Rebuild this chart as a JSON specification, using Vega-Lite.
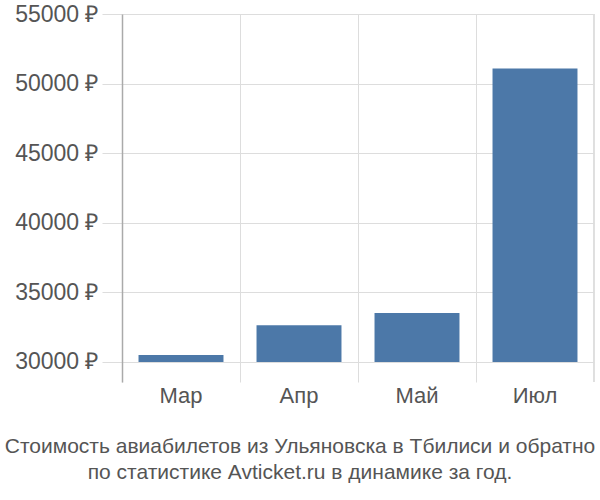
{
  "$schema": "https://vega.github.io/schema/vega-lite/v6.json",
  "autosize": "none",
  "padding": {"left": 122, "top": 14, "right": 6, "bottom": 118},
  "width": 472,
  "height": 368,
  "background": "white",
  "config": {
    "font": "Liberation Sans",
    "view": {"stroke": null}
  },
  "title": {
    "text": ["Стоимость авиабилетов из Ульяновска в Тбилиси и обратно", "по статистике Avticket.ru в динамике за год."],
    "orient": "bottom",
    "anchor": "middle",
    "dx": -58,
    "offset": 30,
    "fontSize": 21,
    "fontWeight": "normal",
    "color": "#555",
    "lineHeight": 26
  },
  "data": {
    "values": [
      {"month": "Мар", "price": 30500},
      {"month": "Апр", "price": 32640},
      {"month": "Май", "price": 33520},
      {"month": "Июл", "price": 51080}
    ]
  },
  "layer": [
    {
      "mark": {"type": "bar", "color": "#4c78a8", "width": {"band": 0.72}},
      "encoding": {
        "x": {
          "field": "month",
          "type": "nominal",
          "sort": null,
          "scale": {"paddingInner": 0, "paddingOuter": 0},
          "axis": {
            "title": null,
            "domain": false,
            "ticks": false,
            "grid": true,
            "gridColor": "#ddd",
            "bandPosition": 0,
            "labelAngle": 0,
            "labelFontSize": 22,
            "labelColor": "#555",
            "labelPadding": 3
          }
        },
        "y": {
          "field": "price",
          "type": "quantitative",
          "scale": {"domain": [28560, 55000], "nice": false, "zero": false},
          "axis": {
            "title": null,
            "values": [30000, 35000, 40000, 45000, 50000, 55000],
            "labelExpr": "datum.value + ' ₽'",
            "labelFontSize": 23,
            "labelColor": "#555",
            "labelPadding": 4,
            "tickSize": 20,
            "tickColor": "#ddd",
            "grid": true,
            "gridColor": "#ddd",
            "domainColor": "#aaa",
            "domainWidth": 1.5
          }
        },
        "y2": {"datum": 30000}
      }
    },
    {
      "mark": {"type": "rule", "color": "#ddd"},
      "encoding": {
        "x": {"datum": "Июл", "bandPosition": 1}
      }
    }
  ]
}
